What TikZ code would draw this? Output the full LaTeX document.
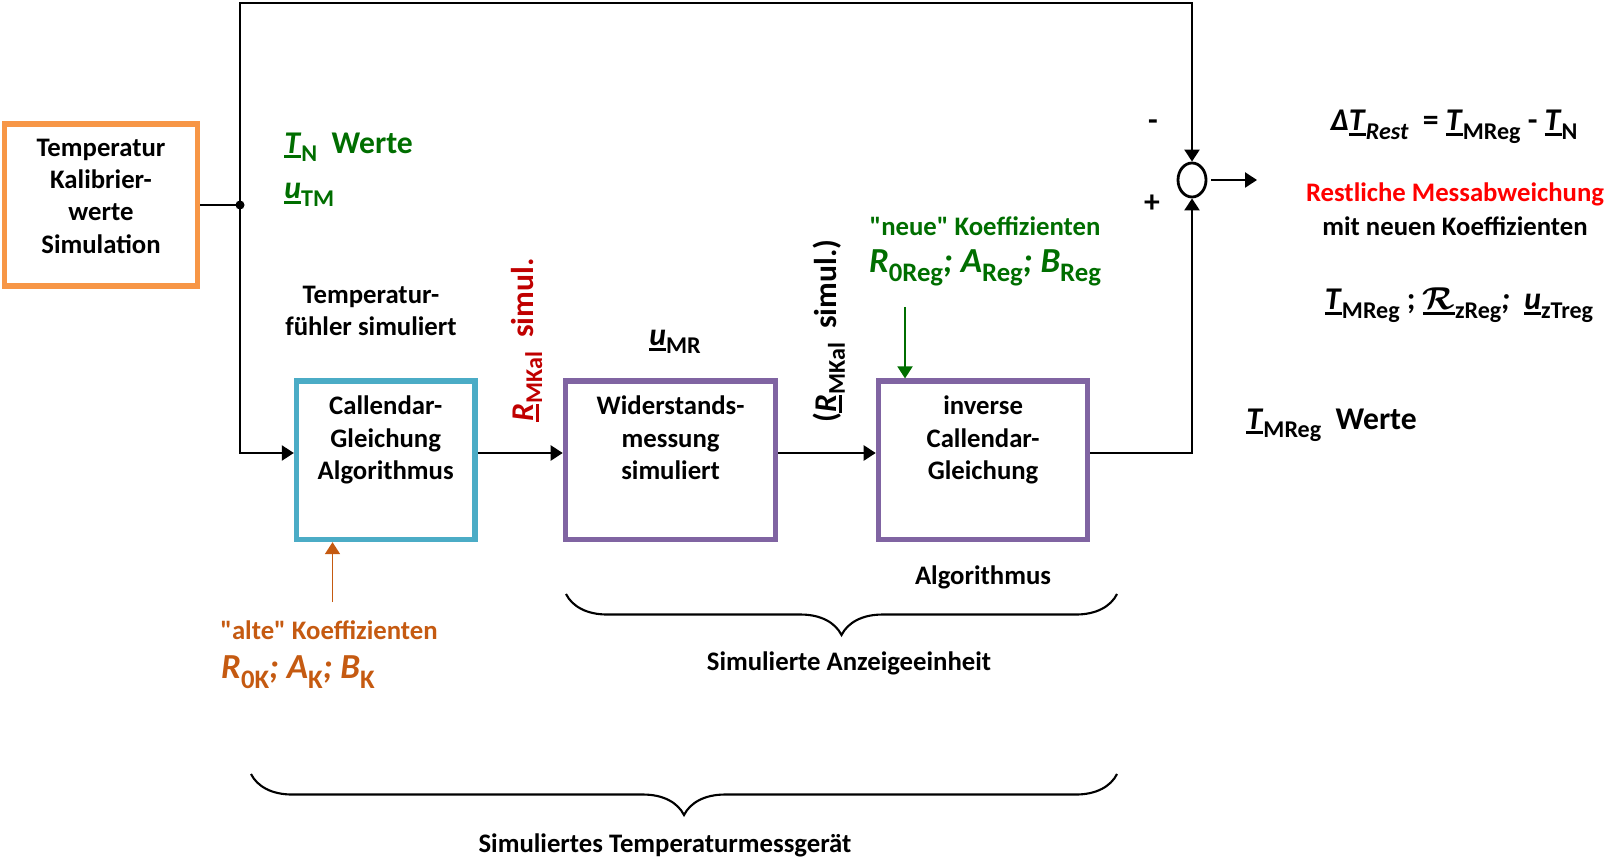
\documentclass[tikz,border=0pt]{standalone}
\usepackage{amsmath,bm}
\usepackage{fontspec}
\setmainfont{Carlito}[Ligatures=TeXOff]
\usepackage{xcolor}
\usepackage{tikz}
\usetikzlibrary{arrows.meta,shapes.geometric,positioning,calc,decorations.pathreplacing}

\definecolor{calorange}{HTML}{F79646}
\definecolor{calcyan}{HTML}{4BACC6}
\definecolor{calpurple}{HTML}{8064A2}
\definecolor{koefgreen}{HTML}{006E00}
\definecolor{koeforange}{HTML}{C55A11}
\definecolor{simred}{HTML}{C00000}

\newsavebox\uvbox
\newcommand{\uv}[1]{\sbox\uvbox{\textit{#1}}\rlap{\rule[-0.16em]{\wd\uvbox}{0.09em}}\usebox\uvbox}
\makeatletter
\newcommand{\sbs}[1]{\raisebox{-0.55ex}{\fontsize{\the\dimexpr0.76\dimexpr\f@size pt\relax\relax}{0}\selectfont #1}}
\makeatother

\begin{document}
\begin{tikzpicture}[
  x=0.01cm, y=-0.01cm,
  font=\bfseries\fontsize{7.6}{9.2}\selectfont,
  box/.style={rectangle, draw, line width=1.6pt, minimum height=1.58cm},
  boxtext/.style={anchor=north, yshift=-0.17cm, align=center, inner sep=0pt},
  arrow/.style={-{Triangle[length=0.12cm,width=0.15cm]}, line width=0.65pt},
  big/.style={font=\bfseries\fontsize{9}{10.8}\selectfont},
  bigger/.style={font=\bfseries\fontsize{10}{12}\selectfont},
  brace/.style={decorate, decoration={brace, mirror, amplitude=0.41cm}, line width=0.6pt}
]
  \useasboundingbox (0,0) rectangle (1604,864);

  % Bloecke
  \node[box, draw=calorange, minimum width=1.93cm, minimum height=1.62cm, label={[boxtext]north:Temperatur\\Kalibrier-\\werte\\Simulation}] (calib) at (101,205) {};
  \node[box, draw=calcyan, minimum width=1.78cm, label={[boxtext]north:Callendar-\\Gleichung\\Algorithmus}] (callendar) at (385.7,460.3) {};
  \node[box, draw=calpurple, minimum width=2.1cm, label={[boxtext]north:Widerstands-\\messung\\simuliert}] (widerstand) at (670.6,460.3) {};
  \node[box, draw=calpurple, minimum width=2.09cm, label={[boxtext]north:inverse\\Callendar-\\Gleichung}] (invcal) at (983.1,460.3) {};
  \node[ellipse, draw, line width=0.8pt, minimum width=0.28cm, minimum height=0.34cm, inner sep=0pt] (sum) at (1192,180) {};

  \coordinate (split) at (240,205);
  \coordinate (topR) at (1192,3);
  \coordinate (sig) at (240,453);
  \coordinate (out) at (1257,180);
  \coordinate (neutail) at (905,307);
  \coordinate (altetail) at (332.5,602);

  % Verbindungen
  \fill (split) circle (0.045cm);
  \draw[line width=0.65pt] (calib.east) -- (split);
  \draw[arrow] (split) |- (topR) -- (sum.north);
  \draw[arrow] (split) -- (sig) -- (sig -| callendar.west);
  \draw[arrow] (sig -| callendar.east) -- (sig -| widerstand.west);
  \draw[arrow] (sig -| widerstand.east) -- (sig -| invcal.west);
  \draw[arrow] (sig -| invcal.east) -| (sum.south);
  \draw[arrow] ([xshift=0.04cm]sum.east) -- (out);
  \draw[arrow, koefgreen, line width=0.5pt] (neutail) -- (neutail |- invcal.north);
  \draw[arrow, koeforange, line width=0.5pt] (altetail) -- (altetail |- callendar.south);

  % Beschriftungen
  \node[big, koefgreen, anchor=west] (tnwerte) at (272,147) {\uv{T}\sbs{N}\ \ Werte};
  \node[big, koefgreen, anchor=west] (utm) at (272,195) {\uv{u}\sbs{TM}};
  \node[align=center] (fuehler) at (371,311) {Temperatur-\\fühler simuliert};
  \node[big, simred, rotate=90] (rmkal) at (527,340) {\uv{R}\sbs{MKal}\ \ simul.};
  \node[big] (umr) at (675,342) {\uv{u}\sbs{MR}};
  \node[big, rotate=90] (rmkalb) at (829,331) {(\uv{R}\sbs{MKal}\ \ simul.)};
  \node[koefgreen] (neukoef) at (985,226) {"neue" Koeffizienten};
  \node[bigger, koefgreen] (neuwerte) at (985,268) {\textit{R}\sbs{0Reg}\textit{;} \textit{A}\sbs{Reg}\textit{;} \textit{B}\sbs{Reg}};
  \node (algo) at (983,577) {Algorithmus};
  \node[koeforange] (altkoef) at (329,630) {"alte" Koeffizienten};
  \node[bigger, koeforange] (altwerte) at (298,672) {\textit{R}\sbs{0K}\textit{;} \textit{A}\sbs{K}\textit{;} \textit{B}\sbs{K}};
  \node[big] (minus) at (1153,125) {-};
  \node[big] (plus) at (1152,204) {+};
  \node[big] (delta) at (1454,127) {\textit{Δ}\uv{T}\sbs{\textit{Rest}}\ \ = \uv{T}\sbs{MReg} - \uv{T}\sbs{N}};
  \node[red] (rest) at (1455,194) {Restliche Messabweichung};
  \node (mitneu) at (1455,226) {mit neuen Koeffizienten};
  \node[big] (regwerte) at (1459,305) {\uv{T}\sbs{MReg} ; \uv{$\boldsymbol{\mathcal{R}}$}\sbs{zReg}\textit{;}\ \ \uv{u}\sbs{zTreg}};
  \node[big, anchor=west] (tmreg) at (1234,425) {\uv{T}\sbs{MReg}\ \ Werte};

  % Klammern
  \draw[brace] (566,594) -- (1117,594);
  \node (anzeige) at (849,663) {Simulierte Anzeigeeinheit};
  \draw[brace] (251,774) -- (1117,774);
  \node (messgeraet) at (665,845) {Simuliertes Temperaturmessgerät};
\end{tikzpicture}
\end{document}
